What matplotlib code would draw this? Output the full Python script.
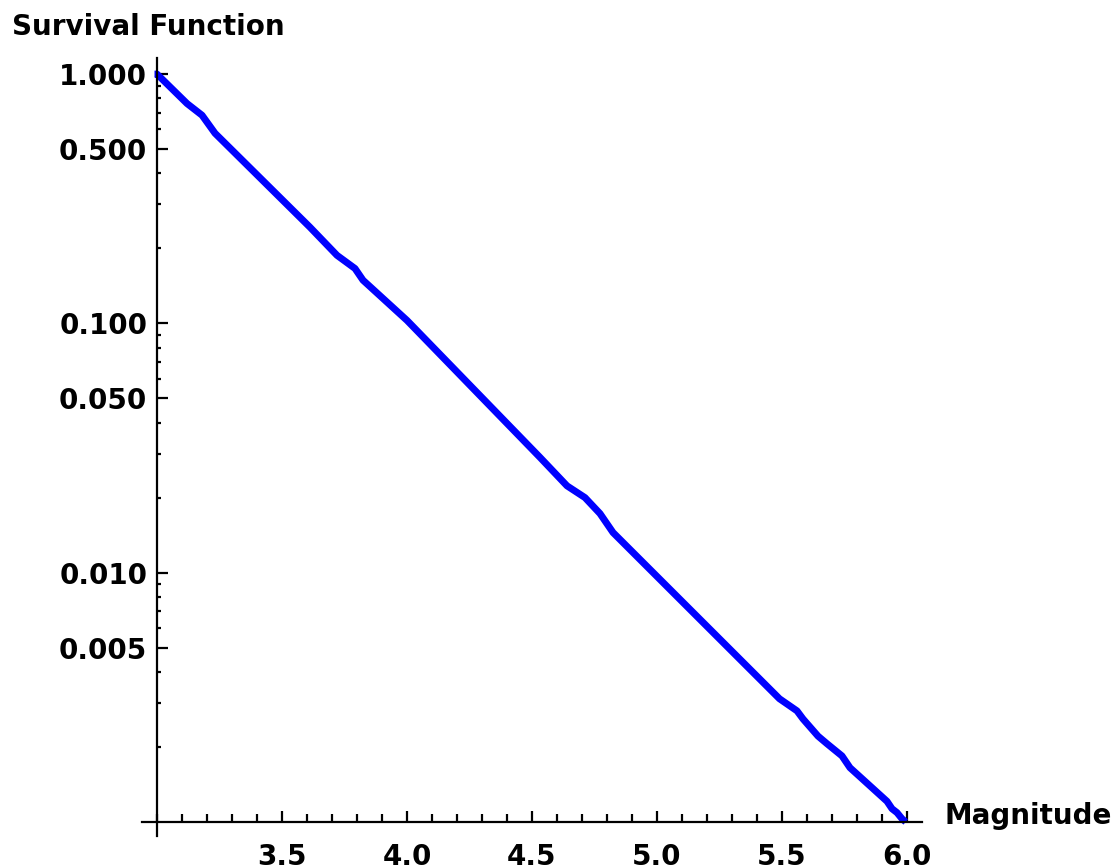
import matplotlib
matplotlib.use("Agg")
import matplotlib.pyplot as plt
import numpy as np
from matplotlib.ticker import FixedLocator, FormatStrFormatter, NullFormatter

# ---- data ----
magnitude = [2.99, 3.0, 3.12, 3.18, 3.232, 3.612, 3.72, 3.792, 3.824, 4.0, 4.532,
             4.64, 4.712, 4.772, 4.824, 5.49, 5.56, 5.584, 5.644, 5.68, 5.74,
             5.772, 5.92, 5.94, 5.96, 5.98, 5.995]
survival = [1.0, 1.0, 0.762, 0.684, 0.579, 0.243, 0.1875, 0.166, 0.149, 0.1028, 0.0290,
            0.0223, 0.0200, 0.01726, 0.01449, 0.00312, 0.00279, 0.00259, 0.00221, 0.00206, 0.00184,
            0.00165, 0.00121, 0.00113, 0.00109, 0.00103, 0.00100]

x_major = [3.5, 4.0, 4.5, 5.0, 5.5, 6.0]
y_major = [1.0, 0.5, 0.1, 0.05, 0.01, 0.005]

plt.rcParams['font.family'] = ['DejaVu Sans']
plt.rcParams['font.weight'] = 'bold'

fig = plt.figure(figsize=(11.2, 8.65), dpi=100)
ax = fig.add_axes([0.1268, 0.0335, 0.6964, 0.8994])

ax.plot(magnitude, survival, color=(0, 0, 1), lw=5, solid_capstyle='butt',
        solid_joinstyle='round', clip_on=False)

ax.set_yscale('log')
ax.set_xlim(2.94, 6.06)
ax.set_ylim(0.000878, 1.16)

# axes cross at (3.0, 0.001)
ax.spines['left'].set_position(('data', 3.0))
ax.spines['bottom'].set_position(('data', 0.001))
ax.spines['right'].set_visible(False)
ax.spines['top'].set_visible(False)
for s in ('left', 'bottom'):
    ax.spines[s].set_linewidth(1.6)

ax.xaxis.set_major_locator(FixedLocator(x_major))
ax.xaxis.set_minor_locator(FixedLocator([round(3.0 + 0.1 * i, 1) for i in range(31)]))
ax.xaxis.set_major_formatter(FormatStrFormatter('%.1f'))

y_minor = [m * 10.0 ** e for e in (-3, -2, -1) for m in range(2, 10)]
ax.yaxis.set_major_locator(FixedLocator(y_major))
ax.yaxis.set_minor_locator(FixedLocator(y_minor))
ax.yaxis.set_major_formatter(FormatStrFormatter('%.3f'))
ax.yaxis.set_minor_formatter(NullFormatter())

ax.tick_params(axis='x', which='major', direction='in', length=8, width=1.6,
               labelsize=20, pad=15)
ax.tick_params(axis='x', which='minor', direction='in', length=5.5, width=1.6)
ax.tick_params(axis='y', which='major', direction='in', length=8, width=1.6,
               labelsize=20, pad=7)
ax.tick_params(axis='y', which='minor', direction='in', length=3, width=1.6)

for lab in ax.get_xticklabels() + ax.get_yticklabels():
    lab.set_fontweight('bold')

fig.text(0.011, 0.9595, 'Survival Function', fontsize=20, fontweight='bold',
         ha='left', va='baseline')
fig.text(0.843, 0.0474, 'Magnitude', fontsize=20, fontweight='bold',
         ha='left', va='baseline')

fig.savefig('out.png', dpi=100)
